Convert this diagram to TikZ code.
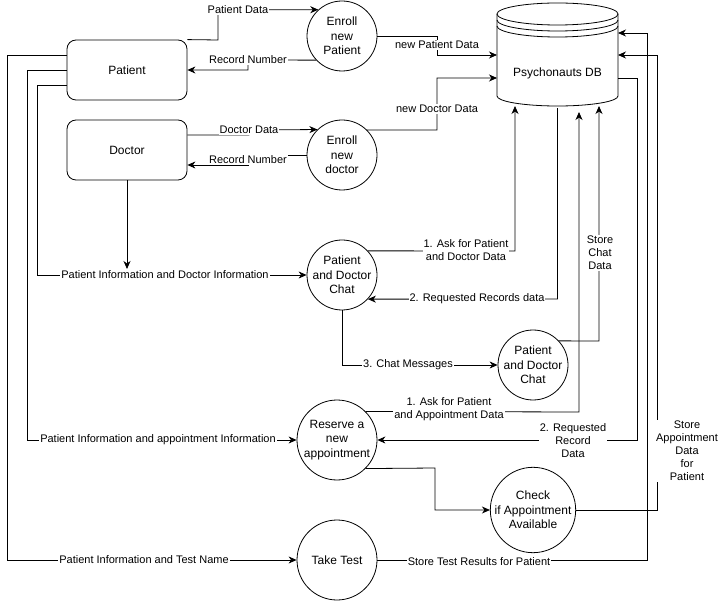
\documentclass[tikz,border=0pt]{standalone}
\usepackage{fontspec}
\setmainfont{Liberation Sans}
\usetikzlibrary{arrows.meta}
\begin{document}
\begin{tikzpicture}[x=1pt,y=-1pt,
  proc/.style={circle,draw,line width=0.8pt,inner sep=0pt,align=center,font=\fontsize{12}{14.4}\selectfont},
  ent/.style={rectangle,rounded corners=9pt,draw,line width=0.8pt,minimum width=120pt,minimum height=60pt,font=\fontsize{12}{14.4}\selectfont},
  flow/.style={draw,line width=0.8pt,-{Stealth[length=8pt,width=7pt,inset=2.5pt]}},
  conn/.style={draw,line width=0.8pt},
  lbl/.style={fill=white,inner sep=1pt,align=center,font=\fontsize{11}{13}\selectfont}]
\useasboundingbox (0,0) rectangle (720,601);

% entities
\node[ent] (pat) at (127,70) {Patient};
\node[ent] (doc) at (127,150) {Doctor};

% processes
\node[proc,minimum size=70pt] (enrollP) at (342,36) {Enroll\\new\\Patient};
\node[proc,minimum size=70pt] (enrollD) at (342,155) {Enroll\\new\\doctor};
\node[proc,minimum size=70pt] (chat1) at (342,275) {Patient\\and Doctor\\Chat};
\node[proc,minimum size=70pt] (chat2) at (533,365) {Patient\\and Doctor\\Chat};
\node[proc,minimum size=80pt] (reserve) at (337,440) {Reserve a\\new\\appointment};
\node[proc,minimum size=80pt] (check) at (533,510) {Check\\if Appointment\\Available};
\node[proc,minimum size=80pt] (take) at (337,560) {Take Test};

% data store
\node[minimum width=121pt,minimum height=104pt,inner sep=0pt,font=\fontsize{12}{14.4}\selectfont] (db) at (557.5,56) {};
\node[font=\fontsize{12}{14.4}\selectfont] (dbtext) at (557.5,73) {Psychonauts DB};
\draw[line width=0.8pt] (557.5,14) ellipse [x radius=60.5pt, y radius=11pt];
\draw[line width=0.8pt] (497,14) -- (497,96) arc[start angle=180,end angle=360,x radius=60.5pt,y radius=10pt] -- (618,14);
\draw[line width=0.8pt] (497,20) arc[start angle=180,end angle=360,x radius=60.5pt,y radius=11pt];
\draw[line width=0.8pt] (497,26) arc[start angle=180,end angle=360,x radius=60.5pt,y radius=11pt];

% data store ports
\coordinate (dbL1) at (497,55);
\coordinate (dbL2) at (497,78);
\coordinate (dbR1) at (618,33);
\coordinate (dbR2) at (618,55);
\coordinate (dbR3) at (618,78);
\coordinate (dbB1) at (515,106);
\coordinate (dbB2) at (579,112);
\coordinate (dbB3) at (599,106);
\coordinate (j1) at (127,269);

% connectors
\path[flow] (pat.north east) -- (218,40) -- (218,10) -- (enrollP.132);
\path[flow] (enrollP.223.3) -- (248,60) -- (248,70) -- (pat.east);
\path[flow] (doc.east |- 0,135) -- (249,135) -- (249,130) -- (enrollD.134.4);
\path[flow] (enrollD.west) -- (248,155) -- (248,165) -- (doc.east |- 0,165);
\path[flow] (enrollP.east) -- (437,36) -- (437,55) -- (dbL1);
\path[flow] (enrollD.45.6) -- (437,130) -- (437,78) -- (dbL2);
\path[flow] (doc.south) -- (j1);
\path[flow] (pat.west |- 0,85) -- (37,85) -- (37,275) -- (chat1.west);
\path[flow] (pat.west |- 0,70) -- (27,70) -- (27,440) -- (reserve.west);
\path[flow] (pat.west |- 0,55) -- (7,55) -- (7,560) -- (take.west);
\path[flow] (chat1.43) -- (515,251) -- (dbB1);
\path[flow] (db.south) -- (557.5,299) -- (chat1.-43);
\path[flow] (chat1.south) -- (342,365) -- (chat2.west);
\path[flow] (chat2.43) -- (599,341) -- (dbB3);
\path[flow] (reserve.45) -- (579,412) -- (dbB2);
\path[flow] (dbR3) -- (637,78) -- (637,440) -- (reserve.east);
\path[flow] (reserve.-45) -- (435,468) -- (435,510) -- (check.west);
\path[flow] (check.east) -- (657,510) -- (657,55) -- (dbR2);
\path[flow] (take.east) -- (647,560) -- (647,33) -- (dbR1);

% labels
\node[lbl] (l1) at (238,10) {Patient Data};
\node[lbl] (l2) at (248,60) {Record Number};
\node[lbl] (l3) at (249,130) {Doctor Data};
\node[lbl] (l4) at (248,160) {Record Number};
\node[lbl] (l5) at (437,45) {new Patient Data};
\node[lbl] (l6) at (437,109) {new Doctor Data};
\node[lbl] (l7) at (165,275) {Patient Information and Doctor Information};
\node[lbl] (l8) at (158,440) {Patient Information and appointment Information};
\node[lbl] (l9) at (144,560) {Patient Information and Test Name};
\node[lbl] (l10) at (466,250) {1. Ask for Patient\\and Doctor Data};
\node[lbl] (l11) at (477,299) {2. Requested Records data};
\node[lbl] (l12) at (408,365) {3. Chat Messages};
\node[lbl] (l13) at (600,253) {Store\\Chat\\Data};
\node[lbl] (l14) at (449,409) {1. Ask for Patient\\and Appointment Data};
\node[lbl] (l15) at (573,441) {2. Requested\\Record\\Data};
\node[lbl] (l16) at (687,451) {Store\\Appointment\\Data\\for\\Patient};
\node[lbl] (l17) at (479,562) {Store Test Results for Patient};
\end{tikzpicture}
\end{document}
